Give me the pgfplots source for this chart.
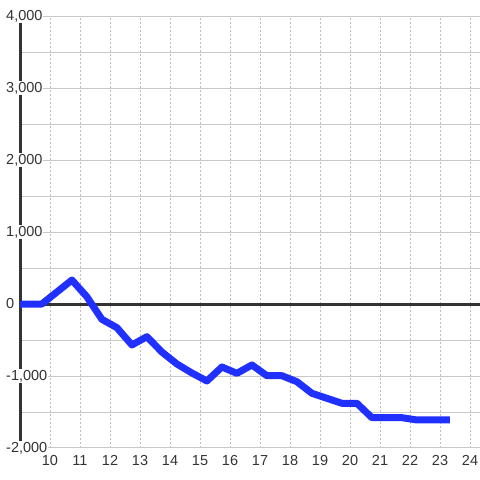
\documentclass[border=0pt]{standalone}
\usepackage{pgfplots}
\pgfplotsset{compat=1.18}
\usepackage{fontspec}
\setmainfont{Liberation Sans}
\definecolor{txt}{RGB}{51,51,51}
\definecolor{gridc}{RGB}{200,200,200}
\definecolor{vgrid}{RGB}{190,190,190}
\definecolor{lineblue}{RGB}{32,48,255}
\begin{document}
\begin{tikzpicture}[x=1pt,y=1pt]
\begin{axis}[
  set layers,
  at={(20pt,32pt)}, anchor=south west,
  scale only axis, width=460pt, height=432pt,
  xmin=9, xmax=24.333, ymin=-2000, ymax=4000,
  axis line style={draw=none},
  major tick length=0pt, minor tick length=0pt,
  xtick={10,...,24},
  ytick={-2000,-1000,0,1000,2000,3000,4000},
  minor ytick={-1500,-500,500,1500,2500,3500},
  xmajorgrids, ymajorgrids, yminorgrids,
  x grid style={vgrid, line width=0.8pt, dash pattern=on 2pt off 2pt},
  y grid style={gridc, line width=1pt},
  minor y grid style={gridc, line width=1pt},
  /pgf/number format/assume math mode=true,
  /pgf/number format/1000 sep={,},
  tick label style={font=\fontsize{14.5}{16}\selectfont, text=txt},
  yticklabel style={anchor=west, fill=white, inner sep=1pt, xshift=-15pt},
  xticklabel style={yshift=-4pt},
  clip=false,
]
\begin{pgfonlayer}{axis grid}
\draw[txt, line width=3pt] (axis cs:9,-2000) -- (axis cs:9,4000);
\draw[txt, line width=3pt] (axis cs:9,0) -- (axis cs:24.333,0);
\end{pgfonlayer}
\addplot[lineblue, line width=7pt, line join=round, line cap=butt] coordinates {
(9,0) (9.73,0) (10.73,333) (11.23,100) (11.73,-213) (12.23,-329) (12.73,-569)
(13.23,-454) (13.73,-667) (14.23,-833) (14.73,-958) (15.23,-1069) (15.73,-875)
(16.23,-963) (16.73,-847) (17.23,-996) (17.73,-996) (18.23,-1079) (18.73,-1240)
(19.23,-1310) (19.73,-1379) (20.23,-1379) (20.73,-1579) (21.23,-1579) (21.73,-1579)
(22.23,-1611) (22.73,-1611) (23.33,-1611)
};
\end{axis}
\pgfresetboundingbox
\path[use as bounding box] (0,0) rectangle (480,480);
\end{tikzpicture}
\end{document}
